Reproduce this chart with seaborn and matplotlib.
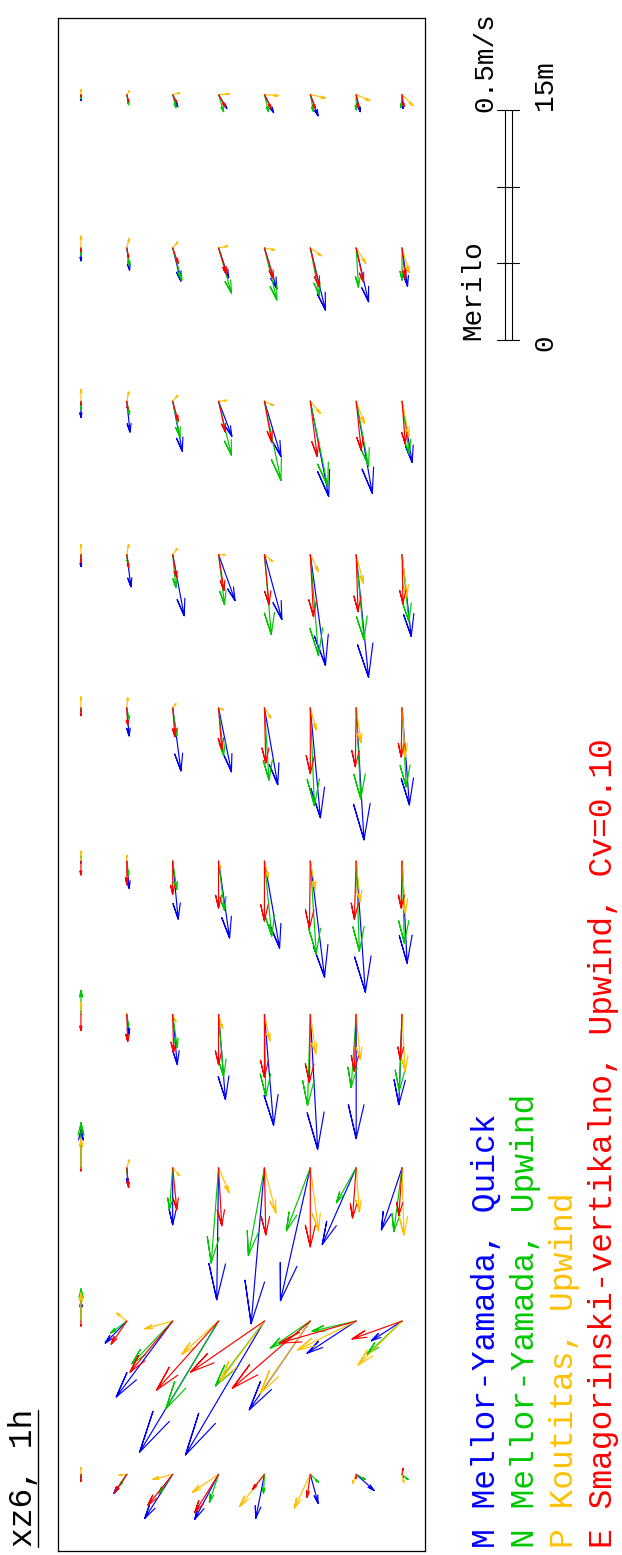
import numpy as np
import pandas as pd
import matplotlib
matplotlib.use("Agg")
import matplotlib.pyplot as plt
import seaborn as sns
from matplotlib.lines import Line2D

# Section geometry: stations along the section (m) and sampling depths (m)
station_x = [95, 85, 75, 65, 55, 45, 35, 25, 15, 5]
depth_z = [1.5, 4.5, 7.5, 10.5, 13.5, 16.5, 19.5, 22.5]

series_keys = ["M", "N", "P", "E"]
series_labels = [
    "M Mellor-Yamada, Quick",
    "N Mellor-Yamada, Upwind",
    "P Koutitas, Upwind",
    "E Smagorinski-vertikalno, Upwind, Cv=0.10",
]
series_colors = ["#0000ff", "#00c800", "#ffc000", "#ff0000"]

# Velocity components in cm/s: u along the section, w vertical (positive up).
# Rows follow station_x, columns follow depth_z.
M_u = [
    [-1.3, -1.7, -2.6, -3.0, -3.9, -4.6, -3.7, -3.0],
    [-2.8, -4.8, -7.2, -6.5, -8.9, -13.5, -11.7, -8.3],
    [-3.5, -6.7, -10.9, -7.6, -12.0, -20.7, -20.0, -13.3],
    [-2.6, -7.0, -13.3, -10.0, -14.1, -24.1, -26.7, -17.8],
    [-0.9, -6.1, -13.7, -13.9, -16.7, -23.9, -28.7, -21.1],
    [-0.4, -5.9, -12.6, -16.7, -18.9, -25.2, -28.5, -22.2],
    [0.7, -4.3, -10.9, -18.5, -24.1, -29.3, -27.0, -19.6],
    [8.3, -3.3, -12.4, -28.7, -33.9, -28.9, -16.7, -13.5],
    [4.3, -4.8, -16.5, -28.5, -29.1, -19.3, -7.0, -4.3],
    [-0.7, -4.1, -9.6, -9.8, -9.6, -6.3, -3.5, -0.7],
]
M_w = [
    [0.0, -0.4, -1.1, -1.8, -2.0, -1.7, -0.9, -0.2],
    [0.0, -0.6, -1.8, -2.2, -2.7, -3.3, -2.7, -1.2],
    [0.0, -0.7, -2.1, -2.9, -3.6, -4.0, -3.5, -2.2],
    [0.0, -0.9, -2.5, -3.6, -3.8, -3.3, -2.7, -2.0],
    [0.0, -0.5, -1.8, -2.8, -2.9, -2.2, -1.7, -1.6],
    [0.0, -0.5, -1.2, -2.4, -3.3, -3.1, -2.0, -1.1],
    [0.0, -0.5, -1.0, -1.5, -2.0, -1.6, 0.0, 0.7],
    [0.0, -0.2, 0.0, 0.4, 2.9, 6.5, 7.4, 4.5],
    [0.0, 4.7, 12.3, 17.2, 17.2, 13.3, 10.7, 6.7],
    [0.0, 2.8, 6.1, 5.2, 1.9, -1.7, -3.9, -0.2],
]
N_u = [
    [-0.9, -2.2, -2.8, -3.7, -3.7, -3.7, -3.3, -2.8],
    [-1.5, -3.9, -7.0, -9.8, -11.3, -10.4, -8.5, -7.0],
    [-1.7, -2.8, -7.8, -11.7, -17.2, -18.5, -14.1, -11.5],
    [-1.3, -1.7, -7.2, -10.9, -17.4, -22.0, -18.5, -14.6],
    [-0.7, -2.4, -6.1, -10.4, -15.7, -21.3, -19.8, -17.2],
    [1.1, -3.0, -6.1, -10.7, -16.3, -20.2, -19.6, -17.8],
    [5.2, -2.6, -7.2, -13.5, -17.8, -19.8, -15.9, -16.7],
    [9.8, -1.1, -9.1, -20.7, -19.1, -13.7, -7.6, -13.9],
    [7.0, -2.6, -9.3, -19.1, -14.1, -5.9, -2.2, -7.2],
    [-0.4, -2.4, -4.1, -6.1, -4.1, -1.7, -1.1, -1.1],
]
N_w = [
    [0.0, -0.4, -0.7, -1.1, -0.9, -0.7, 0.0, 0.2],
    [0.0, -0.6, -2.0, -2.8, -2.7, -2.0, -0.5, 0.0],
    [0.0, -0.6, -1.6, -2.8, -3.6, -3.8, -2.7, -1.6],
    [0.0, -0.2, -0.7, -1.3, -1.5, -1.8, -1.7, -1.5],
    [0.0, -0.5, -0.9, -1.1, -1.0, -0.9, -1.0, -0.9],
    [0.0, -0.4, -0.9, -1.3, -1.6, -1.3, -0.7, -0.5],
    [0.0, -0.4, -1.0, -1.1, -0.3, 0.6, 1.1, 0.6],
    [0.0, 0.0, 0.7, 1.6, 3.5, 5.2, 4.3, 1.8],
    [0.0, 3.5, 8.9, 11.5, 10.7, 8.7, 9.6, 7.6],
    [0.0, 1.5, 3.0, 2.0, 0.2, -1.8, -2.0, -1.3],
]
P_u = [
    [1.1, 0.9, 0.4, 0.2, -0.2, -0.7, -1.3, -2.4],
    [2.6, 2.0, 1.3, 0.4, -0.4, -1.7, -3.3, -5.4],
    [2.6, 2.0, 1.3, 0.2, -0.9, -2.6, -4.8, -7.6],
    [2.2, 2.2, 1.3, 0.0, -1.5, -3.7, -6.3, -9.1],
    [2.4, 2.2, 0.9, -0.4, -2.2, -4.8, -7.6, -10.7],
    [2.2, 1.3, 0.2, -1.5, -3.5, -6.1, -8.7, -11.3],
    [2.6, 0.2, -1.5, -3.0, -5.7, -8.5, -9.8, -12.4],
    [6.3, 1.7, -1.7, -5.4, -9.8, -13.7, -9.6, -14.6],
    [6.1, 1.7, -1.7, -7.2, -13.0, -15.7, -6.3, -9.6],
    [1.5, -0.2, -1.1, -3.9, -7.0, -7.4, -2.0, -1.7],
]
P_w = [
    [0.0, -0.6, -1.5, -2.4, -3.0, -3.3, -3.0, -2.4],
    [0.0, -0.5, -1.1, -2.0, -2.2, -2.4, -2.1, -1.6],
    [0.0, -0.4, -1.1, -1.7, -2.0, -2.2, -1.8, -1.5],
    [0.0, -0.4, -1.0, -1.5, -1.8, -1.8, -1.6, -1.1],
    [0.0, -0.2, -0.7, -1.1, -1.4, -1.3, -1.1, -0.7],
    [0.0, 0.0, -0.2, -0.5, -0.9, -1.1, -0.9, -0.7],
    [0.0, -0.1, -0.7, -0.9, -1.2, -1.2, -0.9, -0.7],
    [0.0, -0.5, -1.5, -2.3, -2.5, -1.8, -0.7, -0.4],
    [0.0, 2.2, 6.1, 8.0, 9.6, 10.9, 12.8, 9.6],
    [0.0, 1.7, 4.3, 5.7, 5.4, 3.5, 0.8, -0.4],
]
E_u = [
    [-0.4, -1.5, -1.7, -2.6, -3.0, -3.0, -2.8, -2.6],
    [-0.7, -2.0, -3.3, -5.7, -6.7, -8.5, -7.4, -6.7],
    [-0.7, -1.7, -4.3, -6.7, -8.9, -12.0, -10.7, -9.3],
    [-1.7, -2.8, -5.0, -7.8, -10.9, -13.5, -12.4, -10.7],
    [-1.7, -3.7, -6.3, -9.1, -12.0, -14.3, -12.8, -10.7],
    [-3.0, -5.0, -7.2, -10.2, -13.0, -14.6, -12.6, -10.2],
    [-3.5, -5.9, -8.3, -10.9, -13.7, -14.8, -12.4, -9.8],
    [-0.7, -4.3, -9.1, -12.6, -14.6, -17.2, -10.9, -10.4],
    [-1.1, -5.0, -11.1, -15.0, -11.1, -14.6, -4.8, -3.9],
    [-1.5, -3.9, -6.7, -8.3, -3.3, -5.0, -0.9, 1.3],
]
E_w = [
    [0.0, -0.4, -0.9, -1.5, -1.5, -1.1, -0.5, -0.4],
    [0.0, -0.4, -1.2, -1.8, -2.0, -2.0, -1.6, -0.7],
    [0.0, -0.2, -1.2, -1.5, -1.6, -1.5, -1.1, -0.7],
    [0.0, -0.4, -0.9, -1.2, -1.0, -0.7, -0.4, -0.2],
    [0.0, -0.2, -0.5, -0.7, -0.3, 0.0, 0.2, 0.2],
    [0.0, 0.0, 0.0, 0.0, 0.0, 0.2, 0.4, 0.2],
    [0.0, -0.2, -0.2, 0.0, 0.0, 0.2, 0.4, 0.4],
    [0.0, -0.4, -0.9, -0.7, -0.3, 0.0, 0.8, 0.7],
    [0.0, 3.4, 9.3, 13.5, 16.1, 17.0, 16.7, 10.9],
    [0.0, 2.6, 5.4, 5.2, 2.6, 0.7, 0.0, -0.2],
]

components = {"M": (M_u, M_w), "N": (N_u, N_w), "P": (P_u, P_w), "E": (E_u, E_w)}

# Drawing scale: 0.5 m/s is drawn as 15 m of section length
ARROW_SCALE = 15.0 / 50.0      # m of drawing per cm/s
HEAD_FRAC = 0.28
HEAD_ANGLE = np.deg2rad(13.0)

rows = []
arrow_id = 0
for key in series_keys:
    U, W = components[key]
    for i, xs in enumerate(station_x):
        for k, z in enumerate(depth_z):
            dz = -W[i][k] * ARROW_SCALE     # to the right = deeper
            dx = U[i][k] * ARROW_SCALE      # upward = along +x
            length = np.hypot(dz, dx)
            if length < 1e-6:
                continue
            tip = np.array([z + dz, xs + dx])
            back = -np.array([dz, dx]) / length
            h = HEAD_FRAC * length
            barbs = []
            for a in (HEAD_ANGLE, -HEAD_ANGLE):
                c, s = np.cos(a), np.sin(a)
                r = np.array([c * back[0] - s * back[1], s * back[0] + c * back[1]])
                barbs.append(tip + h * r)
            pts = [(z, xs), tuple(tip), tuple(barbs[0]), tuple(tip), tuple(barbs[1])]
            for order, (pz, px_) in enumerate(pts):
                rows.append({"depth": pz, "x": px_, "arrow": arrow_id,
                             "order": order, "series": key})
            arrow_id += 1

arrows = pd.DataFrame(rows)

sns.set_theme(style="white")
mono = ["Liberation Mono", "DejaVu Sans Mono"]
plt.rcParams["font.family"] = mono

W_PX, H_PX = 622, 1555
fig = plt.figure(figsize=(W_PX / 100, H_PX / 100), dpi=100)
fig.patch.set_facecolor("white")


def fx(x):
    return x / W_PX


def fy(y):
    return 1.0 - y / H_PX


ax = fig.add_axes([fx(58), fy(1551), (425 - 58) / W_PX, (1551 - 18) / H_PX])
sns.lineplot(data=arrows, x="depth", y="x", hue="series", units="arrow",
             estimator=None, sort=False, hue_order=series_keys,
             palette=dict(zip(series_keys, series_colors)),
             legend=False, linewidth=0.85, ax=ax)
ax.set_xlim(0, 24)
ax.set_ylim(0, 100)
ax.set_xticks([])
ax.set_yticks([])
ax.set_xlabel("")
ax.set_ylabel("")
for sp in ax.spines.values():
    sp.set_visible(True)
    sp.set_color("black")
    sp.set_linewidth(0.9)

# Scale bar: 0.5 m/s / 15 m, split into thirds
sax = fig.add_axes([fx(497), fy(340), 22 / W_PX, 230 / H_PX])
sax.set_xlim(0, 22)
sax.set_ylim(0, 15)
sax.axis("off")
for xv in (8, 15):
    sax.plot([xv, xv], [0, 15], color="black", lw=0.8, clip_on=False)
for yv in (0, 5, 10, 15):
    sax.plot([0, 22], [yv, yv], color="black", lw=0.8, clip_on=False)

txt = dict(rotation=90, rotation_mode="anchor", ha="left", va="baseline",
           family=mono)
fig.text(fx(492), fy(112), "0.5m/s", fontsize=20, color="black", **txt)
fig.text(fx(552), fy(110), "15m", fontsize=20, color="black", **txt)
fig.text(fx(480), fy(340), "Merilo", fontsize=20, color="black", **txt)
fig.text(fx(552), fy(351), "0", fontsize=20, color="black", **txt)

# Title with underline
fig.text(fx(32), fy(1547), "xz6, 1h", fontsize=23.8, color="black", **txt)
fig.add_artist(Line2D([fx(38), fx(38)], [fy(1547), fy(1410)],
                      color="black", lw=1.0, transform=fig.transFigure))

# Legend lines
for j, (lab, col) in enumerate(zip(series_labels, series_colors)):
    fig.text(fx(495 + 39 * j), fy(1548), lab, fontsize=23.8, color=col, **txt)

fig.savefig("out.png", dpi=100, facecolor="white")
